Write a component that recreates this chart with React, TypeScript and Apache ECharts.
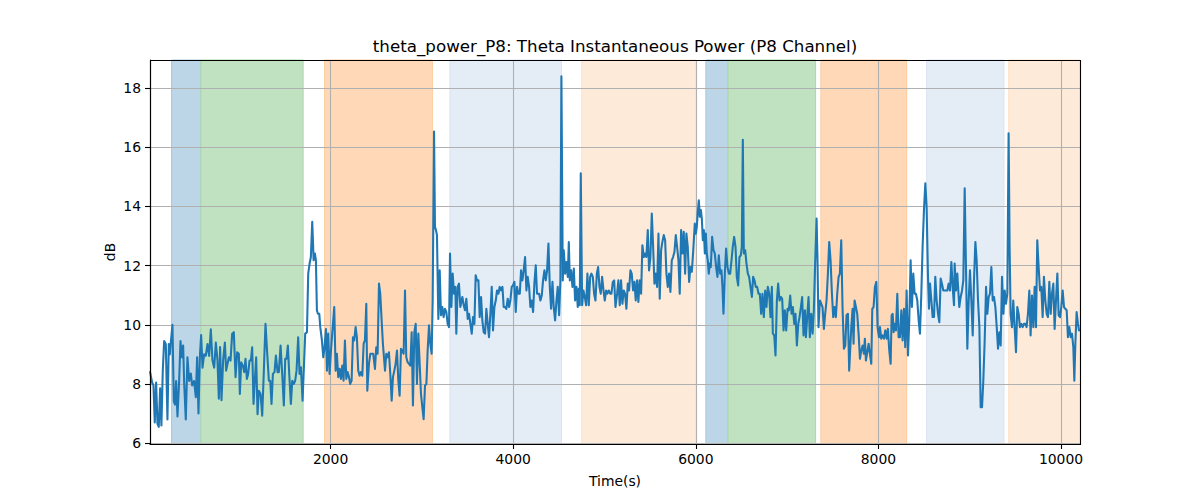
import React, { useEffect, useRef } from "react";
import * as echarts from "echarts";

const chartTitle = "theta_power_P8: Theta Instantaneous Power (P8 Channel)";
const xAxisTitle = "Time(s)";
const yAxisTitle = "dB";

const xTickValues = [2000, 4000, 6000, 8000, 10000];
const yTickValues = [6, 8, 10, 12, 14, 16, 18];

const timeSec = [
  23, 45, 60, 74, 89, 104, 118, 133, 147, 162, 177, 195, 213, 228, 239, 250, 268, 283, 297, 308, 323, 341, 356, 370, 385, 396, 414, 432, 451, 469, 484, 505, 524, 538, 553, 568, 582, 597, 615, 633, 652, 670, 688, 706, 725, 743, 761, 776, 790, 805, 823, 842, 856,
  886, 904, 922, 940, 959, 977, 995, 1006, 1021, 1039, 1054, 1068, 1083, 1097, 1112, 1127, 1141, 1156, 1170, 1185, 1200, 1214, 1233, 1251, 1269, 1287, 1306, 1324, 1339, 1353, 1368, 1386, 1401, 1419, 1433, 1452, 1470, 1488, 1503, 1517, 1532, 1547, 1565, 1580, 1598, 1612, 1627, 1645, 1660, 1675, 1693,
  1722, 1741, 1755, 1770, 1784, 1799, 1814, 1828, 1839, 1850, 1861, 1876, 1887, 1905, 1920, 1934, 1949, 1960, 1974, 1989, 2004, 2018, 2040, 2055, 2069, 2084, 2099, 2113, 2128, 2142, 2157, 2172, 2186, 2201, 2215, 2230, 2245, 2259, 2274, 2288, 2303, 2318, 2332, 2347, 2362, 2376, 2391, 2402, 2420, 2435, 2453, 2467, 2486, 2500, 2515, 2530, 2544, 2559, 2573,
  2596, 2610, 2625, 2639, 2654, 2669, 2683, 2698, 2712, 2727, 2742, 2756, 2771, 2785, 2800, 2815, 2829, 2844, 2859, 2873, 2888, 2902, 2917, 2932, 2946, 2961, 2975, 2990, 3005, 3019, 3034, 3049, 3063, 3078, 3092, 3107, 3118, 3133, 3143, 3154, 3165, 3180, 3195, 3209, 3224, 3238, 3253, 3268, 3282, 3297, 3308, 3323, 3337, 3352, 3366, 3377, 3392, 3406, 3421,
  3443, 3458, 3472, 3487, 3502, 3516, 3531, 3546, 3560, 3575, 3589, 3604, 3619, 3633, 3648, 3662, 3677, 3692, 3706, 3721, 3735, 3750, 3765, 3779, 3794, 3809, 3823, 3838, 3852, 3867, 3882, 3896, 3911, 3925, 3940, 3955, 3969, 3984, 3998, 4013, 4028, 4042, 4057, 4072, 4086, 4101, 4115, 4130, 4145, 4159, 4174, 4188, 4203, 4218, 4232, 4247, 4261,
  4284, 4298, 4313, 4327, 4342, 4357, 4371, 4386, 4401, 4415, 4430, 4444, 4459, 4474, 4488, 4503, 4517, 4528, 4543, 4554, 4569, 4583, 4598, 4609, 4620, 4634, 4649, 4664, 4678, 4693, 4707, 4718, 4729, 4740, 4755, 4769, 4784, 4799, 4813, 4828, 4843, 4857, 4872, 4886, 4901, 4916, 4930, 4945, 4959, 4974, 4989, 5003, 5018, 5032, 5047, 5062, 5076, 5091, 5106, 5120,
  5138, 5152, 5167, 5181, 5196, 5211, 5225, 5240, 5255, 5269, 5284, 5298, 5313, 5328, 5342, 5357, 5371, 5386, 5401, 5415, 5430, 5444, 5459, 5474, 5488, 5503, 5518, 5532, 5547, 5561, 5576, 5591, 5605, 5620, 5634, 5649, 5664, 5678, 5693, 5707, 5722, 5737, 5751, 5766, 5781, 5795, 5810, 5824, 5839, 5854, 5868, 5883, 5897, 5912, 5927, 5941, 5956, 5970,
  5989, 6000, 6011, 6022, 6033, 6044, 6055, 6066, 6077, 6088, 6099, 6110, 6120, 6131, 6142, 6153, 6164, 6179, 6194, 6208, 6223, 6237, 6252, 6267, 6281, 6292, 6303, 6318, 6332, 6347, 6362, 6376, 6391, 6405, 6420, 6435, 6449, 6464, 6478, 6493, 6504, 6515, 6526, 6541, 6555, 6570, 6584, 6599, 6614, 6628, 6643, 6657, 6672, 6687, 6701, 6716, 6730, 6745, 6760, 6774, 6789, 6804, 6818, 6833,
  6844, 6859, 6873, 6888, 6902, 6917, 6932, 6946, 6961, 6975, 6990, 7005, 7019, 7034, 7049, 7063, 7078, 7092, 7107, 7122, 7136, 7151, 7165, 7180, 7195, 7206, 7220, 7235, 7249, 7264, 7279, 7293, 7308, 7323, 7333, 7344, 7359, 7374, 7388, 7403, 7417, 7432, 7447, 7461, 7476, 7491, 7505, 7520, 7534, 7549, 7564, 7578, 7593, 7607, 7622, 7637, 7651, 7666, 7680,
  7703, 7717, 7728, 7739, 7754, 7768, 7783, 7798, 7812, 7827, 7841, 7852, 7863, 7878, 7893, 7907, 7922, 7933, 7947, 7962, 7977, 7991, 8006, 8017, 8031, 8046, 8061, 8075, 8090, 8104, 8119, 8134, 8145, 8156, 8167, 8177, 8192, 8207, 8221, 8236, 8251, 8265, 8280, 8294, 8309, 8324, 8338, 8353, 8367, 8382, 8397, 8411, 8426, 8441, 8455, 8470, 8484, 8499, 8514, 8528, 8543,
  8554, 8565, 8580, 8594, 8609, 8623, 8638, 8653, 8667, 8682, 8696, 8711, 8726, 8740, 8755, 8769, 8784, 8799, 8813, 8828, 8835, 8850, 8864, 8875, 8886, 8901, 8916, 8930, 8945, 8959, 8974, 8989, 9003, 9018, 9033, 9047, 9062, 9076, 9091, 9106, 9120, 9135, 9149, 9164, 9179, 9193, 9208, 9222, 9237, 9252, 9266, 9281, 9296, 9310, 9325, 9339, 9354, 9369, 9383,
  9397, 9412, 9426, 9437, 9448, 9463, 9477, 9492, 9507, 9521, 9536, 9550, 9565, 9580, 9594, 9609, 9623, 9638, 9653, 9667, 9682, 9697, 9711, 9726, 9740, 9755, 9770, 9784, 9799, 9813, 9828, 9843, 9857, 9872, 9887, 9901, 9916, 9930, 9945, 9960, 9974, 9989, 10003, 10018, 10033, 10047, 10062, 10076, 10091, 10106, 10120, 10135, 10146, 10157, 10171, 10186, 10197,
];

const thetaDb = [
  8.4, 8.05, 7.95, 6.7, 8.05, 6.65, 6.55, 7.85, 6.6, 8.45, 9.45, 9.35, 6.8, 9.35, 9.0, 9.4, 10.0, 7.4, 7.3, 8.1, 6.9, 8.1, 9.45, 8.9, 9.3, 8.05, 6.8, 8.9, 8.1, 8.35, 7.95, 8.1, 7.55, 8.9, 7.0, 8.9, 9.65, 8.55, 9.0, 8.95, 9.35, 8.95, 9.85, 8.8, 8.55, 9.4, 8.8, 7.5, 9.25, 7.45, 8.8, 9.4, 8.45,
  8.9, 8.79, 9.7, 9.75, 8.23, 9.07, 9.02, 7.66, 8.73, 8.62, 8.4, 8.85, 8.17, 8.34, 8.79, 8.79, 9.24, 7.32, 8.11, 8.9, 6.98, 7.77, 7.66, 6.93, 8.45, 10.03, 9.02, 8.11, 8.11, 7.32, 8.34, 8.4, 8.96, 8.4, 8.4, 9.3, 8.34, 7.27, 8.85, 8.85, 9.3, 8.34, 7.32, 8.11, 8.0, 8.11, 8.45, 9.58, 8.34, 8.56, 7.43,
  9.7, 9.75, 11.73, 12.07, 12.29, 13.48, 12.18, 12.41, 12.18, 10.49, 10.37, 10.37, 9.92, 9.47, 8.9, 9.24, 9.86, 8.45, 9.7, 8.34, 9.13, 9.7, 10.6, 8.45, 9.02, 8.23, 8.51, 8.17, 8.62, 8.11, 9.47, 8.17, 8.4, 8.23, 8.0, 8.11, 9.58, 9.47, 9.92, 9.58, 8.45, 8.28, 8.4, 8.28, 9.36, 9.47, 10.71, 7.77, 8.68, 9.02, 9.02, 9.02, 8.51, 9.24, 9.02, 11.39, 11.05, 10.15, 9.36,
  8.45, 9.02, 8.9, 9.07, 8.34, 7.43, 8.23, 8.45, 8.68, 9.13, 8.11, 7.6, 9.19, 9.13, 9.02, 11.16, 8.9, 8.73, 8.68, 8.62, 9.75, 7.27, 9.75, 10.03, 8.0, 9.7, 8.73, 7.66, 7.21, 6.81, 7.94, 8.0, 9.13, 9.98, 9.36, 9.02, 10.82, 16.53, 13.31, 13.2, 13.03, 10.2, 11.84, 10.32, 10.6, 10.26, 10.54, 10.43, 10.03, 9.92, 12.41, 10.6, 11.73, 11.05, 11.28, 9.7, 11.28, 11.39, 10.6,
  10.94, 10.66, 10.49, 10.88, 10.2, 10.37, 10.03, 9.7, 10.26, 10.03, 11.67, 11.5, 11.5, 10.26, 10.94, 10.15, 9.75, 9.7, 10.54, 10.03, 9.58, 10.37, 11.28, 9.81, 10.6, 10.82, 11.16, 11.05, 11.28, 11.16, 11.28, 10.6, 10.6, 10.54, 10.88, 10.6, 10.82, 11.28, 11.33, 11.45, 10.43, 11.28, 11.05, 11.05, 11.84, 11.5, 11.84, 12.29, 11.16, 11.62, 11.28, 10.6, 10.82, 10.43, 11.39, 12.01, 11.05,
  11.05, 10.82, 10.99, 11.5, 11.84, 11.5, 11.84, 12.75, 11.28, 10.54, 11.45, 10.6, 10.15, 10.82, 11.28, 10.32, 11.5, 18.4, 11.5, 12.52, 11.73, 12.12, 11.62, 12.8, 11.5, 11.84, 11.28, 11.9, 10.82, 11.28, 10.6, 11.22, 10.66, 15.12, 10.66, 11.16, 10.94, 10.66, 11.73, 10.66, 11.62, 11.73, 11.62, 11.05, 10.82, 11.73, 11.95, 11.28, 11.05, 11.62, 11.16, 10.82, 11.16, 11.05, 11.16, 11.05, 11.05, 11.45, 11.5, 10.6,
  11.05, 11.5, 10.66, 11.5, 10.71, 11.16, 11.05, 10.54, 11.39, 11.16, 11.84, 11.73, 11.16, 11.45, 10.82, 11.5, 10.77, 11.5, 11.05, 12.69, 12.29, 12.41, 12.29, 13.2, 11.84, 12.29, 13.76, 12.69, 11.39, 11.73, 11.28, 13.08, 10.88, 12.52, 12.8, 13.03, 12.86, 11.73, 11.28, 11.73, 11.11, 12.18, 12.29, 12.46, 13.03, 12.63, 12.18, 11.05, 13.2, 12.41, 13.14, 11.73, 13.08, 12.63, 11.45, 11.95, 11.79, 12.41,
  13.42, 13.08, 13.31, 13.82, 14.21, 13.65, 13.88, 13.59, 12.86, 13.2, 12.41, 13.08, 12.41, 12.18, 11.73, 12.07, 11.95, 12.97, 12.52, 12.41, 11.95, 11.62, 12.35, 11.73, 11.84, 11.28, 10.37, 11.73, 12.58, 11.95, 11.73, 11.73, 12.18, 12.63, 12.97, 12.63, 11.62, 11.33, 12.29, 12.35, 12.63, 16.25, 12.41, 12.52, 12.07, 11.73, 11.62, 11.28, 10.94, 11.62, 11.5, 11.28, 11.28, 11.05, 11.05, 10.37, 11.05, 10.26, 11.16, 10.6, 11.28, 11.05, 10.26, 11.28,
  9.7, 9.64, 8.96, 10.82, 11.39, 10.82, 10.94, 10.88, 9.81, 10.49, 9.81, 10.54, 10.49, 10.99, 10.37, 10.6, 10.03, 10.37, 9.3, 10.03, 10.26, 10.6, 10.94, 9.64, 10.49, 9.58, 10.26, 10.94, 9.58, 10.37, 9.7, 10.49, 12.18, 13.59, 12.18, 9.92, 10.82, 10.71, 10.6, 9.86, 10.37, 10.82, 11.73, 12.8, 12.18, 11.05, 10.26, 10.6, 10.26, 11.05, 11.62, 11.73, 12.86, 10.6, 9.19, 9.3, 10.32, 10.37, 8.45,
  9.92, 10.54, 9.36, 10.82, 10.6, 10.37, 9.7, 8.85, 9.13, 9.3, 9.02, 9.53, 8.79, 9.07, 9.36, 9.02, 8.68, 10.54, 10.6, 11.28, 11.45, 9.92, 9.58, 9.92, 9.53, 9.64, 9.53, 9.81, 9.53, 9.86, 9.13, 8.68, 10.32, 10.37, 9.75, 10.03, 9.81, 11.05, 9.58, 9.58, 10.49, 9.47, 10.54, 9.24, 11.16, 8.96, 10.15, 12.18, 10.6, 11.73, 11.05, 11.05, 10.82, 10.15, 9.7, 11.05, 12.63, 13.88, 14.78, 13.99, 11.62,
  10.54, 11.39, 10.82, 10.26, 10.26, 11.62, 10.82, 10.37, 10.09, 11.56, 11.39, 11.16, 11.16, 11.16, 11.16, 11.39, 11.16, 12.12, 11.28, 10.66, 12.07, 11.16, 11.73, 11.16, 10.6, 10.94, 11.16, 11.5, 14.61, 11.95, 9.19, 10.82, 11.84, 10.82, 9.64, 11.5, 12.8, 12.18, 10.82, 9.92, 7.21, 7.21, 8.11, 9.47, 11.28, 10.37, 10.94, 11.05, 11.95, 10.82, 10.94, 10.6, 9.92, 9.19, 9.75, 9.3, 11.62, 10.37, 11.16,
  10.71, 11.05, 16.47, 12.63, 10.37, 9.92, 10.82, 9.92, 9.07, 10.6, 10.37, 9.92, 10.03, 9.92, 10.03, 10.03, 9.92, 10.37, 11.16, 9.64, 10.99, 9.92, 11.28, 9.92, 12.86, 11.95, 11.16, 11.28, 10.26, 11.62, 10.82, 10.37, 10.26, 11.45, 10.37, 11.05, 11.39, 9.86, 10.82, 11.73, 10.32, 10.26, 10.6, 11.16, 10.6, 10.54, 10.49, 9.58, 9.92, 9.58, 9.7, 9.24, 8.11, 9.36, 10.43, 10.03, 9.81,
];

const spanStart = [258, 579, 1934, 3307, 4751, 6110, 6354, 7370, 8528, 9427];
const spanEnd = [579, 1699, 3115, 4528, 6003, 6354, 7312, 8309, 9375, 10208];
const spanKind = ["blue", "green", "orange", "lightblue", "lightorange", "blue", "green", "orange", "lightblue", "lightorange"];

const X_MIN = 22;
const X_MAX = 10208;
const Y_MIN = 5.97;
const Y_MAX = 18.95;

const SPAN_STYLE: Record<string, { face: string; edge: string }> = {
  blue: { face: "#bcd6e8", edge: "#a6c8e1" },
  green: { face: "#c0e2c0", edge: "#a9d8a9" },
  orange: { face: "#ffd9b7", edge: "#fecb9c" },
  lightblue: { face: "#e4ecf6", edge: "#d9e4f2" },
  lightorange: { face: "#feead8", edge: "#fde1c8" },
};

const FONT = "DejaVu Sans";

export default function App() {
  const ref = useRef<HTMLDivElement>(null);

  useEffect(() => {
    if (!ref.current) return;
    const chart = echarts.init(ref.current, undefined, { renderer: "svg" });

    const n = Math.min(timeSec.length, thetaDb.length);
    const lineData: [number, number][] = [];
    for (let i = 0; i < n; i++) lineData.push([timeSec[i], thetaDb[i]]);

    const areas = spanStart.map((s, i) => {
      const st = SPAN_STYLE[spanKind[i]];
      return [
        { xAxis: s, itemStyle: { color: st.face, borderColor: st.edge, borderWidth: 1, opacity: 1 } },
        { xAxis: spanEnd[i] },
      ];
    });

    const left = 150;
    const top = 60;
    const width = 930;
    const height = 384;

    chart.setOption({
      animation: false,
      textStyle: { fontFamily: FONT },
      grid: { left, top, width, height, show: false },
      xAxis: {
        type: "value",
        min: X_MIN,
        max: X_MAX,
        z: 2,
        axisLine: { show: true, onZero: false, lineStyle: { color: "#000", width: 1.1 } },
        axisTick: { show: true, length: 5, customValues: xTickValues, lineStyle: { color: "#000", width: 1.1 } },
        axisLabel: {
          color: "#000",
          fontSize: 13.9,
          fontFamily: FONT,
          margin: 8,
          customValues: xTickValues,
          formatter: (v: number) => String(v),
        },
        splitLine: { show: true, lineStyle: { color: "#b0b0b0", width: 1.1 } },
      },
      yAxis: {
        type: "value",
        min: Y_MIN,
        max: Y_MAX,
        z: 2,
        axisLine: { show: true, onZero: false, lineStyle: { color: "#000", width: 1.1 } },
        axisTick: { show: true, length: 5, customValues: yTickValues, lineStyle: { color: "#000", width: 1.1 } },
        axisLabel: {
          color: "#000",
          fontSize: 13.9,
          fontFamily: FONT,
          margin: 9,
          customValues: yTickValues,
          formatter: (v: number) => String(v),
        },
        splitLine: { show: true, lineStyle: { color: "#b0b0b0", width: 1.1 } },
      },
      series: [
        {
          type: "line",
          data: [],
          z: 1,
          silent: true,
          markArea: { silent: true, data: areas },
        },
        {
          type: "line",
          data: lineData,
          z: 3,
          showSymbol: false,
          symbol: "none",
          clip: true,
          lineStyle: { color: "#1f77b4", width: 2.08, join: "round", cap: "round" },
          itemStyle: { color: "#1f77b4" },
        },
      ],
      graphic: [
        {
          type: "rect",
          z: 10,
          silent: true,
          shape: { x: left + 0.5, y: top + 0.5, width: width, height: height },
          style: { fill: "none", stroke: "#000", lineWidth: 1.1 },
        },
        {
          type: "text",
          x: left + width / 2,
          y: 46,
          style: { text: chartTitle, fontFamily: FONT, fontSize: 16.7, fill: "#000", textAlign: "center", textVerticalAlign: "middle" },
        },
        {
          type: "text",
          x: left + width / 2,
          y: 481,
          style: { text: xAxisTitle, fontFamily: FONT, fontSize: 13.9, fill: "#000", textAlign: "center", textVerticalAlign: "middle" },
        },
        {
          type: "text",
          x: 110,
          y: top + height / 2,
          rotation: Math.PI / 2,
          style: { text: yAxisTitle, fontFamily: FONT, fontSize: 13.9, fill: "#000", textAlign: "center", textVerticalAlign: "middle" },
        },
      ],
    });

    return () => chart.dispose();
  }, []);

  return (
    <div
      ref={ref}
      style={{ position: "absolute", left: 0, top: 0, width: 1200, height: 500, background: "#fff" }}
    />
  );
}
